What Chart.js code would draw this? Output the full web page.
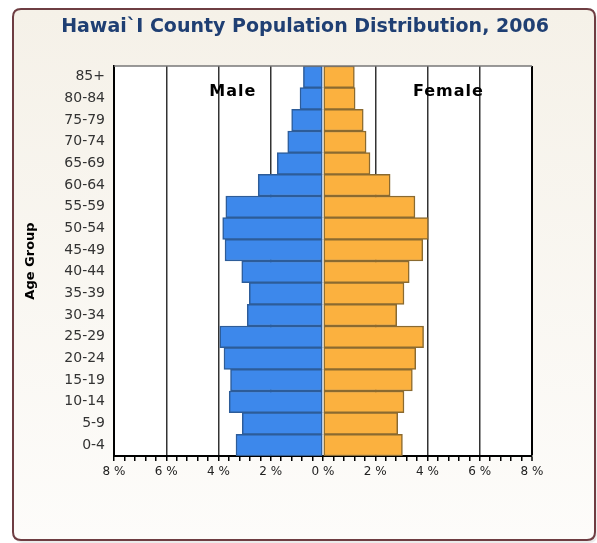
<!DOCTYPE html>
<html>
<head>
<meta charset="utf-8">
<script src="https://cdn.jsdelivr.net/npm/chart.js@4.4.1/dist/chart.umd.min.js"></script>
<style>
  html, body { margin: 0; padding: 0; background: #fff; }
  #wrap { width: 597px; height: 543px; position: relative; }
</style>
</head>
<body>
<div id="wrap"><canvas id="pyramid" width="597" height="543"></canvas></div>
<script>
// Age groups, top to bottom as drawn
const ageGroups = ['85+', '80-84', '75-79', '70-74', '65-69', '60-64', '55-59', '50-54', '45-49',
  '40-44', '35-39', '30-34', '25-29', '20-24', '15-19', '10-14', '5-9', '0-4'];

// Percent of total population
const malePct = [0.75, 0.88, 1.2, 1.35, 1.75, 2.48, 3.72, 3.84, 3.75,
  3.11, 2.82, 2.9, 3.95, 3.79, 3.54, 3.59, 3.09, 3.33];
const femalePct = [1.2, 1.23, 1.54, 1.65, 1.8, 2.57, 3.52, 4.03, 3.82,
  3.3, 3.1, 2.82, 3.85, 3.55, 3.42, 3.1, 2.86, 3.04];

const chartTitle = 'Hawai`I County Population Distribution, 2006';

const xMin = -8;
const xMax = 8;
const xStep = 0.4;

const isMajor = v => Math.round(v * 10) % 20 === 0;

// frame, backgrounds, title and the Male / Female captions
const decor = {
  id: 'decor',
  beforeDraw(chart) {
    const c = chart.ctx;
    const a = chart.chartArea;
    c.save();
    c.fillStyle = '#ffffff';
    c.fillRect(0, 0, chart.width, chart.height);
    // soft shadow
    c.fillStyle = 'rgba(0,0,0,0.08)';
    roundRect(c, 15, 11, 582, 532, 8);
    c.fill();
    const g = c.createLinearGradient(0, 10, 0, 540);
    g.addColorStop(0, '#f5f1e8');
    g.addColorStop(1, '#fdfcfa');
    c.fillStyle = g;
    roundRect(c, 13, 9, 582, 531, 8);
    c.fill();
    c.strokeStyle = '#6e3d42';
    c.lineWidth = 2;
    c.stroke();
    c.fillStyle = '#ffffff';
    c.fillRect(a.left, a.top, a.right - a.left, a.bottom - a.top);

    // title, centred on the frame rather than the chart area
    c.fillStyle = '#1f3f73';
    c.font = 'bold 19px "DejaVu Sans"';
    c.textAlign = 'center';
    c.textBaseline = 'middle';
    c.fillText(chartTitle, 305, 27);
    c.restore();
  },
  afterDraw(chart) {
    const c = chart.ctx;
    const a = chart.chartArea;
    const x = chart.scales.x;
    c.save();
    c.strokeStyle = '#777';
    c.lineWidth = 1.5;
    c.beginPath();
    c.moveTo(a.left, a.top);
    c.lineTo(a.right, a.top);
    c.stroke();

    c.fillStyle = '#000';
    c.textAlign = 'center';
    c.textBaseline = 'middle';
    c.font = 'bold 16px "DejaVu Sans"';
    c.letterSpacing = '1px';
    c.fillText('Male', x.getPixelForValue(-3.45), a.top + 26);
    c.fillText('Female', x.getPixelForValue(4.8), a.top + 26);
    c.restore();
  }
};

function roundRect(c, x, y, w, h, r) {
  c.beginPath();
  c.moveTo(x + r, y);
  c.lineTo(x + w - r, y);
  c.quadraticCurveTo(x + w, y, x + w, y + r);
  c.lineTo(x + w, y + h - r);
  c.quadraticCurveTo(x + w, y + h, x + w - r, y + h);
  c.lineTo(x + r, y + h);
  c.quadraticCurveTo(x, y + h, x, y + h - r);
  c.lineTo(x, y + r);
  c.quadraticCurveTo(x, y, x + r, y);
  c.closePath();
}

new Chart(document.getElementById('pyramid'), {
  type: 'bar',
  data: {
    labels: ageGroups,
    datasets: [
      {
        label: 'Male',
        data: malePct.map(v => -v),
        backgroundColor: '#3d88eb',
        borderColor: '#2d5c99',
        borderWidth: 1.5,
        borderSkipped: false,
        barPercentage: 1,
        categoryPercentage: 1
      },
      {
        label: 'Female',
        data: femalePct,
        backgroundColor: '#fbb13f',
        borderColor: '#8a6a30',
        borderWidth: 1.5,
        borderSkipped: false,
        barPercentage: 1,
        categoryPercentage: 1
      }
    ]
  },
  options: {
    indexAxis: 'y',
    responsive: false,
    animation: false,
    layout: { padding: { left: 20, right: 65, top: 66, bottom: 58 } },
    plugins: {
      legend: { display: false },
      tooltip: { enabled: false },
      title: { display: false }
    },
    scales: {
      x: {
        stacked: true,
        min: xMin,
        max: xMax,
        afterFit: s => { s.height = 29; },
        ticks: {
          stepSize: xStep,
          autoSkip: false,
          maxRotation: 0,
          padding: 4,
          color: '#222',
          font: { family: 'DejaVu Sans', size: 12 },
          callback: v => isMajor(v) ? Math.abs(Math.round(v)) + ' %' : ''
        },
        grid: {
          color: ctx => {
            const v = ctx.tick ? ctx.tick.value : 0;
            if (Math.abs(v - xMax) < 1e-6) return '#000';
            return isMajor(v) && Math.abs(v) > 1e-6 && Math.abs(v - xMin) > 1e-6 ? '#333' : 'rgba(0,0,0,0)';
          },
          lineWidth: ctx => (ctx.tick && Math.abs(ctx.tick.value - xMax) < 1e-6) ? 2 : 1.5,
          drawTicks: true,
          tickLength: 5,
          tickColor: '#000',
          tickWidth: 1.5
        },
        border: { display: true, color: '#000', width: 2 }
      },
      y: {
        stacked: true,
        afterFit: s => { s.width = 94; },
        title: {
          display: true,
          text: 'Age Group',
          color: '#000',
          font: { family: 'DejaVu Sans', size: 13, weight: 'bold' },
          padding: { top: 3, bottom: 0 }
        },
        ticks: {
          color: '#333',
          padding: 9,
          font: { family: 'DejaVu Sans', size: 14 }
        },
        grid: { display: false, drawTicks: false },
        border: { display: true, color: '#000', width: 2 }
      }
    }
  },
  plugins: [decor]
});
</script>
</body>
</html>
